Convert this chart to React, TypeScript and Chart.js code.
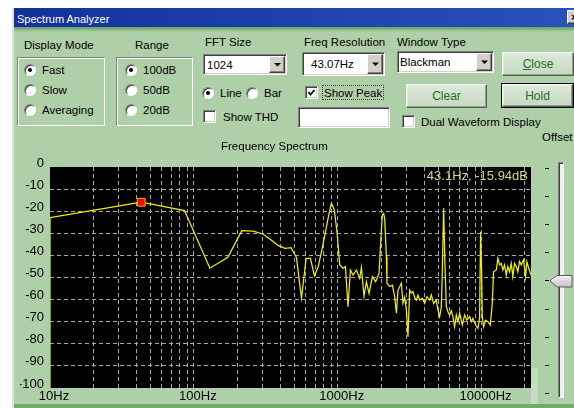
import React, { useEffect, useRef } from "react";
import { Chart, registerables } from "chart.js";

Chart.register(...registerables);

const FONT = '"Liberation Sans", Arial, Helvetica, sans-serif';
const GREEN = "#afcfa9";
const BTN_TEXT = "#2a6a2a";

// ---- spectrum data (frequency in Hz, level in dB) ----
const freqHz = [
  10, 10, 43.07, 86.13, 129.2, 172.3, 215.3, 258.4, 301.5, 344.5,
  387.6, 430.7, 473.7, 516.8, 559.9, 603, 646, 689.1, 732.2, 775.3,
  818.3, 861.4, 904.5, 947.5, 990.6, 1033, 1088, 1131, 1179, 1225,
  1277, 1349, 1422, 1461, 1523, 1582, 1650, 1742, 1836, 1936,
  2011, 2044, 2086, 2120, 2179, 2200, 2297, 2399, 2488, 2557,
  2624, 2770, 2842, 2920, 3001, 3078, 3162, 3250, 3334, 3426,
  3520, 3611, 3711, 3875, 4020, 4170, 4355, 4475, 4642, 4846,
  4972, 5109, 5250, 5335, 5446, 5560, 5687, 5834, 5995, 6160,
  6320, 6494, 6673, 6846, 7035, 7345, 7619, 7905, 8254, 8481,
  8701, 9085, 9426, 9685, 9842, 10000, 10113, 10325, 10660, 11060,
  11490, 11865, 12115, 12650, 12980, 13335, 13702, 14057, 14443, 14840,
  15225, 15645, 16078, 16494, 16947, 17414, 17865, 18357, 18862, 19571,
  20208, 20632, 21100, 22050,
];
const levelDb = [
  -100, -22.9, -15.94, -19.7, -45.8, -40.9, -28.8, -29.0, -30.3, -33.0,
  -35.6, -36.8, -36.5, -41.0, -59.4, -41.3, -41.3, -49.3, -45.0, -37.6,
  -30.0, -22.5, -16.4, -19.5, -30.0, -44.3, -45.8, -45.1, -63.2, -46.6,
  -48.9, -46.6, -50.4, -45.4, -58.5, -51.9, -57.2, -49.6, -51.9, -48.1,
  -28.5, -21.7, -21.0, -23.2, -40.6, -52.6, -54.1, -53.5, -58.7, -66.2,
  -55.7, -52.6, -61.7, -59.0, -64.7, -76.8, -55.7, -57.0, -56.4, -59.0,
  -60.2, -58.0, -60.2, -59.5, -61.7, -58.7, -60.2, -57.9, -61.7, -60.2,
  -64.7, -67.7, -63.2, -46.6, -18.7, -43.6, -63.2, -65.5, -67.0, -65.0,
  -67.7, -72.3, -67.0, -70.0, -66.2, -71.5, -67.0, -69.3, -67.7, -70.0,
  -68.5, -71.5, -73.0, -68.5, -29.3, -46.6, -67.7, -72.3, -69.3, -70.0,
  -71.5, -61.7, -47.4, -46.6, -41.3, -44.3, -43.6, -46.6, -44.3, -48.9,
  -45.0, -47.4, -43.6, -49.6, -43.6, -45.0, -47.4, -42.8, -44.3, -42.0,
  -49.6, -42.8, -45.0, -48.9,
];
const peakHz = 43.07;
const peakDb = -15.94;
const peakLabel = "43.1Hz, -15.94dB";
const dbTicks = [0, -10, -20, -30, -40, -50, -60, -70, -80, -90, -100];
const hzGrid = [
  10, 20, 30, 40, 50, 60, 70, 80, 90,
  100, 200, 300, 400, 500, 600, 700, 800, 900,
  1000, 2000, 3000, 4000, 5000, 6000, 7000, 8000, 9000,
  10000, 20000,
];
const hzLabels = [10, 100, 1000, 10000];
const HZ_MIN = 10;
const HZ_MAX = 22050;

function SpectrumChart() {
  const ref = useRef<HTMLCanvasElement>(null);
  useEffect(() => {
    if (!ref.current) return;
    const bgPlugin = {
      id: "blackArea",
      beforeDraw(chart: any) {
        const { ctx, chartArea } = chart;
        ctx.save();
        ctx.fillStyle = "#000";
        ctx.fillRect(chartArea.left, chartArea.top, chartArea.right - chartArea.left, chartArea.bottom - chartArea.top);
        ctx.restore();
      },
    };
    const peakTextPlugin = {
      id: "peakText",
      afterDatasetsDraw(chart: any) {
        const { ctx, chartArea } = chart;
        ctx.save();
        ctx.font = '13px ' + FONT;
        ctx.fillStyle = "#d8d880";
        ctx.textAlign = "right";
        ctx.textBaseline = "middle";
        ctx.fillText(peakLabel, chartArea.right - 3, chartArea.top + 9.5);
        ctx.restore();
      },
    };
    const chart = new Chart(ref.current, {
      type: "line",
      data: {
        datasets: [
          {
            data: [{ x: peakHz, y: peakDb }],
            showLine: false,
            pointStyle: "rect",
            pointRadius: 5.5,
            pointBackgroundColor: "#ff0000",
            pointBorderColor: "#e8b400",
            pointBorderWidth: 1,
            order: 0,
          } as any,
          {
            data: freqHz.map((f, i) => ({ x: f, y: levelDb[i] })),
            borderColor: "#f0f000",
            borderWidth: 1.25,
            pointRadius: 0,
            tension: 0,
            fill: false,
            order: 1,
          } as any,
        ],
      },
      options: {
        animation: false,
        responsive: false,
        maintainAspectRatio: false,
        layout: { padding: { left: 10, top: 17, right: 9, bottom: 0 } },
        plugins: { legend: { display: false }, tooltip: { enabled: false }, title: { display: false } },
        scales: {
          x: {
            type: "logarithmic",
            min: HZ_MIN,
            max: HZ_MAX,
            afterBuildTicks: (s: any) => {
              s.ticks = hzGrid.map((v) => ({ value: v }));
            },
            afterFit: (s: any) => {
              s.height = 16;
            },
            border: { display: false, dash: [4, 3] },
            grid: {
              drawTicks: false,
              lineWidth: 1,
              color: (c: any) => (c.tick && c.tick.value === HZ_MIN ? "rgba(0,0,0,0)" : "#a8a8a8"),
            },
            ticks: {
              autoSkip: false,
              maxRotation: 0,
              minRotation: 0,
              padding: 1,
              labelOffset: 4,
              color: "#000",
              font: { family: FONT, size: 13 },
              callback: (v: any) => (hzLabels.includes(Number(v)) ? `${v}Hz` : ""),
            },
          },
          y: {
            type: "linear",
            min: -100,
            max: 0,
            afterBuildTicks: (s: any) => {
              s.ticks = dbTicks.map((v) => ({ value: v }));
            },
            afterFit: (s: any) => {
              s.width = 30;
            },
            border: { display: false, dash: [4, 3] },
            grid: {
              drawTicks: false,
              lineWidth: 1,
              color: (c: any) =>
                c.tick && (c.tick.value === 0 || c.tick.value === -100) ? "rgba(0,0,0,0)" : "#a8a8a8",
            },
            ticks: {
              padding: 6,
              labelOffset: -4,
              color: "#000",
              font: { family: FONT, size: 13 },
              callback: (v: any) => String(v),
            },
          },
        },
      } as any,
      plugins: [bgPlugin, peakTextPlugin],
    });
    return () => chart.destroy();
  }, []);
  return (
    <canvas
      ref={ref}
      width={530}
      height={254}
      style={{ position: "absolute", left: 10, top: 150, width: 530, height: 254 }}
    />
  );
}

function Txt({ x, y, children, size = 11.5, color = "#000" }: any) {
  return (
    <div
      style={{
        position: "absolute",
        left: x,
        top: y - 7,
        height: 14,
        lineHeight: "14px",
        fontSize: size,
        color,
        whiteSpace: "nowrap",
        fontFamily: FONT,
      }}
    >
      {children}
    </div>
  );
}

const sunken: any = {
  borderStyle: "solid",
  borderWidth: 1,
  borderColor: "#808080 #ffffff #ffffff #808080",
  boxShadow: "inset 1px 1px 0 #404040, inset -1px -1px 0 #d4d0c8",
  boxSizing: "border-box",
};

const raised: any = {
  borderStyle: "solid",
  borderWidth: 1,
  borderColor: "#ffffff #404040 #404040 #ffffff",
  boxShadow: "inset -1px -1px 0 #808080",
  boxSizing: "border-box",
  background: "#d4d0c8",
};

function Radio({ cx, cy, on }: any) {
  return (
    <div
      style={{
        position: "absolute",
        left: cx - 6,
        top: cy - 6,
        width: 12,
        height: 12,
        borderRadius: "50%",
        background: "#fff",
        boxSizing: "border-box",
        borderStyle: "solid",
        borderWidth: 1,
        borderColor: "#808080 #ffffff #ffffff #808080",
        boxShadow: "inset 1px 1px 0 #404040",
      }}
    >
      {on && (
        <div style={{ position: "absolute", left: 3, top: 3, width: 4, height: 4, borderRadius: "50%", background: "#000" }} />
      )}
    </div>
  );
}

function Check({ x, y, on }: any) {
  return (
    <div style={{ position: "absolute", left: x, top: y, width: 13, height: 13, background: "#fff", ...sunken }}>
      {on && (
        <svg width="11" height="11" style={{ position: "absolute", left: 0, top: 0 }}>
          <polyline points="2.5,5 4.5,7.5 8.5,3" fill="none" stroke="#000" strokeWidth="1.8" />
        </svg>
      )}
    </div>
  );
}

function Combo({ x, y, w, h, text, tx, ty }: any) {
  const bh = h - 4;
  return (
    <>
      <div style={{ position: "absolute", left: x, top: y, width: w, height: h, background: "#fff", ...sunken }} />
      <div style={{ position: "absolute", left: x + w - 18, top: y + 2, width: 16, height: bh, ...raised }}>
        <svg width="14" height={bh - 2} style={{ position: "absolute", left: 0, top: 0 }}>
          <polygon points={`4,${(bh - 2) / 2 - 1.5} 11,${(bh - 2) / 2 - 1.5} 7.5,${(bh - 2) / 2 + 2}`} fill="#000" />
        </svg>
      </div>
      <Txt x={tx} y={ty}>{text}</Txt>
    </>
  );
}

function Btn({ x, y, w, h, children, def }: any) {
  return (
    <div
      style={{
        position: "absolute",
        left: x,
        top: y,
        width: w,
        height: h,
        boxSizing: "border-box",
        border: def ? "1px solid #000" : "none",
      }}
    >
      <div
        style={{
          position: "absolute",
          left: 0,
          top: 0,
          right: 0,
          bottom: 0,
          borderStyle: "solid",
          borderWidth: 1,
          borderColor: "#f4fbf2 #4f5e4c #4f5e4c #f4fbf2",
          boxShadow: "inset -1px -1px 0 #8fa08c, inset 1px 1px 0 #e6efe3",
          background: "linear-gradient(#dce9d8, #c6d9c2)",
          display: "flex",
          alignItems: "center",
          justifyContent: "center",
          color: BTN_TEXT,
          fontSize: 12,
          fontFamily: FONT,
        }}
      >
        {children}
      </div>
    </div>
  );
}

export default function App() {
  const sliderTicks = [0, 1, 2, 3, 4, 5, 6, 7, 8];
  return (
    <div
      style={{
        position: "fixed",
        left: 0,
        top: 0,
        width: 574,
        height: 408,
        overflow: "hidden",
        background: "#fff",
        fontFamily: FONT,
      }}
    >
      <style>{`html,body{margin:0;padding:0;background:#fff}`}</style>
      {/* window body */}
      <div style={{ position: "absolute", left: 12, top: 8, width: 580, height: 420, background: GREEN, borderLeft: "2px solid #dde3dc", boxSizing: "border-box" }} />
      {/* title bar */}
      <div style={{ position: "absolute", left: 14, top: 8, width: 570, height: 19, background: "linear-gradient(90deg,#12329a,#2a52ba)" }} />
      <Txt x={17} y={18.5} size={11} color="#fff">Spectrum Analyzer</Txt>
      <div style={{ position: "absolute", left: 567, top: 10, width: 16, height: 14, ...raised, fontSize: 11, fontWeight: 700, lineHeight: "12px", paddingLeft: 3 }}>×</div>
      <div style={{ position: "absolute", left: 14, top: 27, width: 570, height: 5, background: "linear-gradient(#639f5f," + GREEN + ")" }} />
      {/* bottom strip */}
      <div style={{ position: "absolute", left: 14, top: 404, width: 570, height: 4, background: "#72ab6c" }} />
      <div style={{ position: "absolute", left: 531, top: 368, width: 7, height: 36, background: "#c3dcbe" }} />

      {/* Display mode */}
      <Txt x={24} y={44.5}>Display Mode</Txt>
      <div style={{ position: "absolute", left: 17, top: 57, width: 88, height: 69, ...sunken, boxShadow: "inset 1px 1px 0 #ffffff" }} />
      <Radio cx={30} cy={70} on />
      <Txt x={42} y={70}>Fast</Txt>
      <Radio cx={30} cy={90} />
      <Txt x={42} y={90}>Slow</Txt>
      <Radio cx={30} cy={110} />
      <Txt x={42} y={110}>Averaging</Txt>

      {/* Range */}
      <Txt x={135} y={44.5}>Range</Txt>
      <div style={{ position: "absolute", left: 116, top: 57, width: 77, height: 69, ...sunken, boxShadow: "inset 1px 1px 0 #ffffff" }} />
      <Radio cx={131} cy={70} on />
      <Txt x={143} y={70}>100dB</Txt>
      <Radio cx={131} cy={90} />
      <Txt x={143} y={90}>50dB</Txt>
      <Radio cx={131} cy={110} />
      <Txt x={143} y={110}>20dB</Txt>

      {/* FFT size */}
      <Txt x={205} y={41.5}>FFT Size</Txt>
      <Combo x={203} y={54} w={84} h={21} text="1024" tx={207} ty={64.5} />
      <Radio cx={208} cy={93} on />
      <Txt x={220} y={93}>Line</Txt>
      <Radio cx={252} cy={93} />
      <Txt x={264} y={93}>Bar</Txt>
      <Check x={203} y={110} />
      <Txt x={223} y={117}>Show THD</Txt>

      {/* Freq resolution */}
      <Txt x={304} y={41.5}>Freq Resolution</Txt>
      <Combo x={302} y={52} w={83} h={24} text="43.07Hz" tx={311} ty={64} />
      <Check x={305} y={86} on />
      <div style={{ position: "absolute", left: 322, top: 85, width: 62, height: 15, border: "1px dotted #404040", boxSizing: "border-box" }} />
      <Txt x={324} y={92.5}>Show Peak</Txt>
      <div style={{ position: "absolute", left: 298, top: 107, width: 92, height: 21, background: "#fff", ...sunken }} />

      {/* Window type */}
      <Txt x={397} y={41.5}>Window Type</Txt>
      <Combo x={397} y={51} w={97} h={22} text="Blackman" tx={400} ty={61.5} />

      {/* buttons */}
      <Btn x={502} y={52} w={72} h={24}><span><u>C</u>lose</span></Btn>
      <Btn x={406} y={84} w={81} h={24}>Clear</Btn>
      <Btn x={501} y={83} w={73} h={25} def>Hold</Btn>

      <Check x={402} y={115} />
      <Txt x={421} y={122}>Dual Waveform Display</Txt>

      {/* offset slider */}
      <Txt x={542} y={136.5}>Offset</Txt>
      <div
        style={{
          position: "absolute",
          left: 558,
          top: 162,
          width: 6,
          height: 236,
          boxSizing: "border-box",
          borderStyle: "solid",
          borderWidth: 1,
          borderColor: "#808080 #ffffff #ffffff #808080",
          boxShadow: "inset 1px 1px 0 #404040",
          background: "#eef2ee",
        }}
      />
      {sliderTicks.map((k) => (
        <div key={k} style={{ position: "absolute", left: 545, top: Math.round(168 + k * 28.1), width: 4, height: 1, background: "#000" }} />
      ))}
      <svg width="26" height="16" style={{ position: "absolute", left: 548, top: 273 }}>
        <defs>
          <linearGradient id="thumbg" x1="0" y1="0" x2="0" y2="1">
            <stop offset="0" stopColor="#f0f0f0" />
            <stop offset="1" stopColor="#c4c4c4" />
          </linearGradient>
        </defs>
        <polygon points="2,8 9,2.5 24,2.5 24,14 9,14" fill="url(#thumbg)" stroke="#5a5a5a" strokeWidth="1" />
        <polyline points="3,8 9.5,3.5 23,3.5" fill="none" stroke="#ffffff" strokeWidth="1" />
      </svg>

      {/* chart */}
      <SpectrumChart />
      <Txt x={221} y={146}>Frequency Spectrum</Txt>
    </div>
  );
}
